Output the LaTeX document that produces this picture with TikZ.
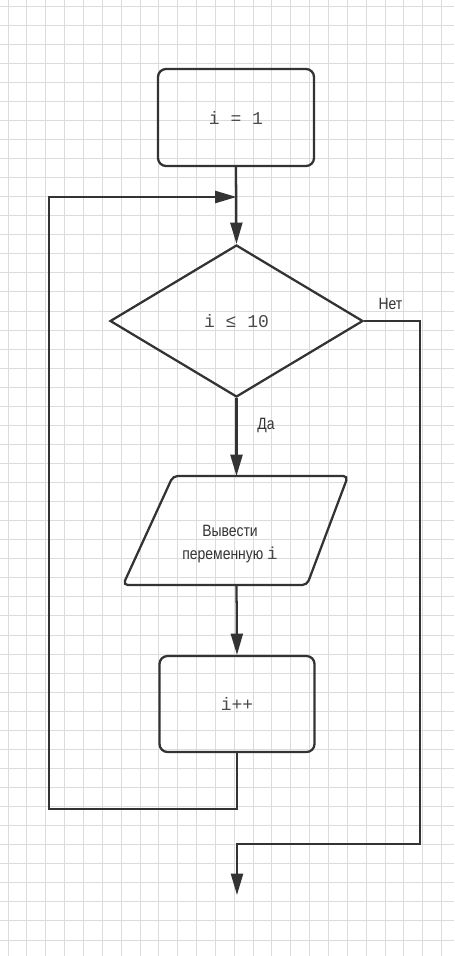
\documentclass[tikz,border=0pt]{standalone}
\usepackage{fontspec}
\setmainfont{Liberation Sans}
\newfontfamily\narrowfont[FakeStretch=0.85]{Liberation Sans}
\newfontfamily\monofont{Liberation Mono}
\usetikzlibrary{arrows.meta,shapes.geometric}
\definecolor{ink}{HTML}{333333}
\definecolor{txt}{HTML}{4A4A4A}
\definecolor{gridc}{HTML}{DCDCDC}
\tikzset{
  gridline/.style={draw=gridc, line width=0.65pt},
  line/.style={draw=ink, line width=1.7pt},
  arr/.style={line, -{Triangle[length=16pt,width=9pt]}},
  procbox/.style={line, rectangle, rounded corners=6pt, inner sep=0pt,
    font=\fontsize{13.5}{16}\monofont, text=txt},
  decbox/.style={line, diamond, inner sep=0pt,
    font=\fontsize{13.5}{16}\monofont, text=txt},
  lbl/.style={font=\fontsize{12.3}{14}\narrowfont, text=ink, inner sep=0pt},
}
\begin{document}
\begin{tikzpicture}[x=0.75pt,y=-0.75pt]
\useasboundingbox (0,0) rectangle (454,956);
% grid
\foreach \k in {0,...,23} \draw[gridline] ({8+18.85*\k},0) -- ({8+18.85*\k},956);
\foreach \k in {0,...,49} \draw[gridline] (0,{6+19.06*\k}) -- (454,{6+19.06*\k});

% nodes
\node[procbox, minimum width=117pt, minimum height=72.75pt] (init) at (236,117.5) {i = 1};
\node[decbox, minimum width=189.75pt, minimum height=114pt] (cond) at (236.5,321) {i ≤ 10};
\draw[line, rounded corners=3.5pt] (173,476) -- (348,476) -- (307,585) -- (123,585) -- cycle;
\node[lbl, align=center, font=\fontsize{12.3}{16.8}\narrowfont] (out) at (230,544)
  {Вывести\\переменную {\fontsize{13}{16}\monofont\color{txt}i}};
\coordinate (outtop) at (236.5,476);
\coordinate (outbot) at (236.5,585);
\node[procbox, minimum width=116.25pt, minimum height=72pt] (inc) at (237,704) {i++};

\node[lbl] (no) at (390.5,304) {Нет};
\node[lbl] (yes) at (266,425) {Да};

% helper points
\coordinate (join) at (236.5,197);
\coordinate (lb) at (49,809);
\coordinate (lt) at (49,197);
\coordinate (rb) at (420,844);
\coordinate (endp) at (237,895);

% connectors
\draw[arr] (init.south) -- (cond.north);
\draw[arr] (cond.south) -- (outtop);
\draw[arr] (outbot) -- (inc.north);
\draw[arr] (inc.south) |- (lb) -- (lt) -- (join);
\draw[arr] (cond.east) -| (rb) -| (endp);
\end{tikzpicture}
\end{document}
